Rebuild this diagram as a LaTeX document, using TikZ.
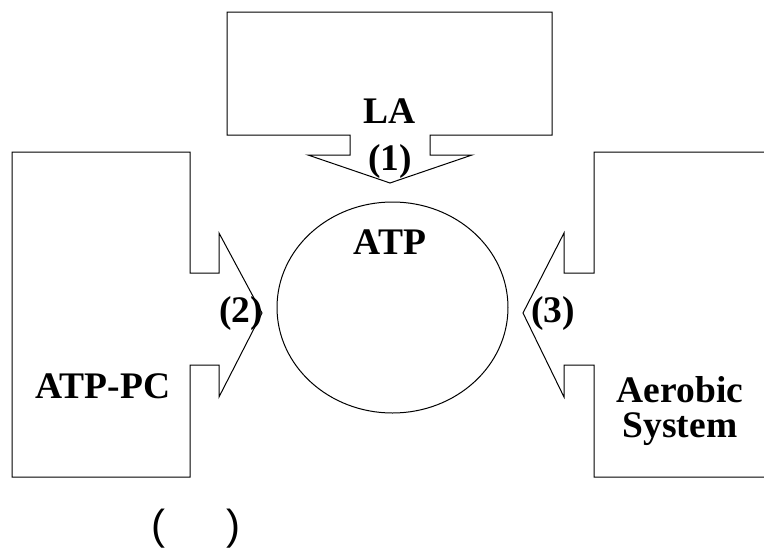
\documentclass[tikz,border=0pt]{standalone}
\usepackage{fontspec}
\setmainfont{Liberation Serif}
\newfontfamily\parfont{Liberation Sans}
\begin{document}
\begin{tikzpicture}[x=1pt,y=-1pt,line width=1pt,
  lbl/.style={font=\fontsize{37.5}{35}\selectfont\bfseries,anchor=base,inner sep=0pt,align=center}]
\useasboundingbox (0,0) rectangle (764,554);
\coordinate (C) at (392.5,307.5);
% LA block, arrow down
\draw (227,12)--(552,12)--(552,135)--(430,135)--(430,155)--(472,155)--(390,183)
  --(308,155)--(350,155)--(350,135)--(227,135)--cycle;
% ATP-PC block, arrow right
\draw (12,152)--(190,152)--(190,273)--(219,273)--(219,233)--(262,313)--(219,397)
  --(219,365)--(190,365)--(190,477)--(12,477)--cycle;
% aerobic block, arrow left
\draw (780,152)--(594,152)--(594,273)--(564,273)--(564,233)--(523,313)--(564,397)
  --(564,365)--(594,365)--(594,477)--(780,477);
\draw (C) ellipse [x radius=115.5, y radius=105.5];
\node[lbl] (la) at (390,123) {LA};
\node[lbl] (one) at (390,170) {(1)};
\node[lbl] (atp) at (390,254) {ATP};
\node[lbl] (two) at (241,322) {(2)};
\node[lbl] (three) at (553,322) {(3)};
\node[lbl] (pc) at (103,398) {ATP-PC};
\node[lbl] (aer) at (680,437) {Aerobic\\System};
\node[font=\parfont\fontsize{42}{46}\selectfont,anchor=base,inner sep=0pt] (lp) at (158,539) {(};
\node[font=\parfont\fontsize{42}{46}\selectfont,anchor=base,inner sep=0pt] (rp) at (233,539) {)};
\end{tikzpicture}
\end{document}
